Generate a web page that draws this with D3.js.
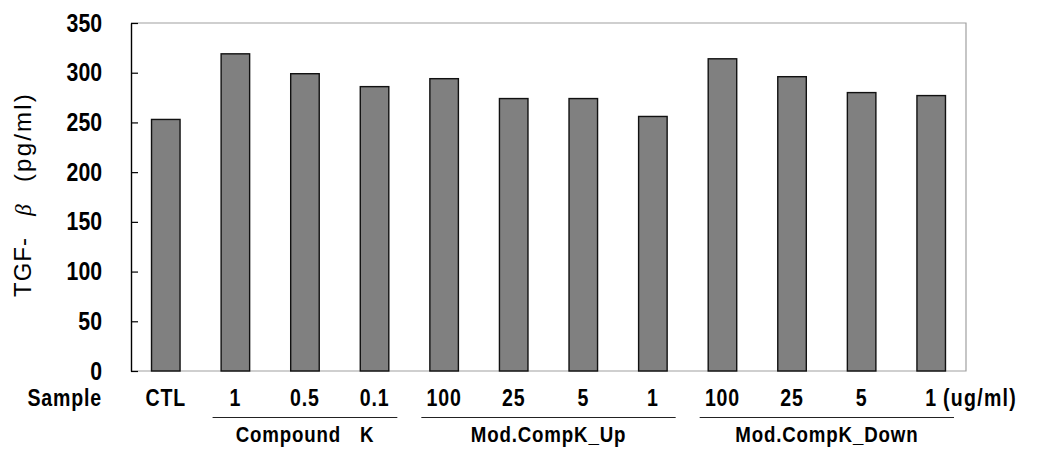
<!DOCTYPE html>
<html>
<head>
<meta charset="utf-8">
<script src="https://cdn.jsdelivr.net/npm/d3@7"></script>
<style>
  html, body { margin: 0; padding: 0; background: #fff; }
  svg { display: block; }
  text { font-family: "Liberation Sans", Arial, sans-serif; fill: #000; }
  .lbl { font-weight: bold; }
</style>
</head>
<body>
<svg id="chart" width="1038" height="449"></svg>
<script>
// TGF-β levels per sample (pg/ml)
const samples = ["CTL", "CK 1", "CK 0.5", "CK 0.1", "Up 100", "Up 25", "Up 5", "Up 1", "Down 100", "Down 25", "Down 5", "Down 1"];
const doseLabels = ["CTL", "1", "0.5", "0.1", "100", "25", "5", "1", "100", "25", "5", "1"];
const tgfValues = [253, 319, 299, 286, 294, 274, 274, 256, 314, 296, 280, 277];
const yTicks = [0, 50, 100, 150, 200, 250, 300, 350];
const groupNames = ["Compound  K", "Mod.CompK_Up", "Mod.CompK_Down"];
const groupStart = [1, 4, 8];
const groupEnd = [3, 7, 11];

const svg = d3.select("#chart");
const margin = { left: 131, right: 72, top: 23, bottom: 78 };
const W = 1038, H = 449;
const plotW = W - margin.left - margin.right;
const plotH = H - margin.top - margin.bottom;
const squeeze = 0.85;   // narrow the bold label face horizontally

const x = d3.scaleBand().domain(samples).range([0, plotW]).paddingInner(0.59).paddingOuter(0.295);
const y = d3.scaleLinear().domain([0, 350]).range([plotH, 0]);

const g = svg.append("g").attr("transform", `translate(${margin.left},${margin.top})`);

// plot frame: grey top/right/bottom
g.append("path")
  .attr("d", `M0,0H${plotW}V${plotH}H0`)
  .attr("fill", "none").attr("stroke", "#a0a0a0").attr("stroke-width", 1.2);

// bars
g.selectAll("rect.bar").data(samples).join("rect")
  .attr("class", "bar")
  .attr("x", d => x(d))
  .attr("width", x.bandwidth())
  .attr("y", (d, i) => y(tgfValues[i]))
  .attr("height", (d, i) => plotH - y(tgfValues[i]))
  .attr("fill", "#808080")
  .attr("stroke", "#111")
  .attr("stroke-width", 1.4);

// y axis with inward ticks
const yAxis = g.append("g")
  .call(d3.axisLeft(y).tickValues(yTicks).tickSizeInner(-7).tickSizeOuter(0));
yAxis.select(".domain").attr("stroke", "#000").attr("stroke-width", 1.4);
yAxis.selectAll(".tick line").attr("stroke", "#000").attr("stroke-width", 1.2);
yAxis.selectAll(".tick text")
  .attr("class", "lbl")
  .attr("x", 0)
  .attr("transform", `translate(-29,0) scale(${squeeze},1)`)
  .style("font-size", "25px")
  .style("font-family", "'Liberation Sans', Arial, sans-serif")
  .attr("fill", "#000");

// y-axis title, rotated
const yTitle = svg.append("g").attr("transform", "translate(31,0) rotate(-90)");
yTitle.append("text").attr("x", -297).attr("text-anchor", "start")
  .style("font-size", "24px").style("letter-spacing", "1px").text("TGF-");
yTitle.append("text").attr("x", -210).attr("text-anchor", "middle")
  .style("font-size", "23px").style("font-style", "italic")
  .style("font-family", "'Liberation Serif', serif").text("β");
yTitle.append("text").attr("x", -92).attr("text-anchor", "end")
  .style("font-size", "24px").style("letter-spacing", "2.2px").text("(pg/ml)");

// helper for the squeezed bold labels below the axis
function label(px, py, txt, anchor, size, spacing) {
  return svg.append("text")
    .attr("class", "lbl")
    .attr("transform", `translate(${px},${py}) scale(${squeeze},1)`)
    .attr("text-anchor", anchor)
    .style("font-size", size + "px")
    .style("letter-spacing", spacing + "px")
    .style("white-space", "pre")
    .text(txt);
}

// dose labels row
const rowY = 406;
label(102, rowY, "Sample", "end", 23, 1);
samples.forEach((s, i) => {
  label(margin.left + x(s) + x.bandwidth() / 2, rowY, doseLabels[i], "middle", 23, 1);
});
label(943, rowY, "(ug/ml)", "start", 23, 1.5);

// group underlines and names
const step = x.step();
const bandLeft = i => margin.left + x(samples[i]) - step * x.paddingInner() / 2;
const bandRight = i => margin.left + x(samples[i]) + x.bandwidth() + step * x.paddingInner() / 2;
groupNames.forEach((name, k) => {
  const x0 = bandLeft(groupStart[k]) + 12;
  const x1 = bandRight(groupEnd[k]) - 12;
  svg.append("line")
    .attr("x1", x0).attr("x2", x1)
    .attr("y1", 417.5).attr("y2", 417.5)
    .attr("stroke", "#222").attr("stroke-width", 1.2);
  label((x0 + x1) / 2, 442, name, "middle", 22, 1).style("word-spacing", "4px");
});
</script>
</body>
</html>
